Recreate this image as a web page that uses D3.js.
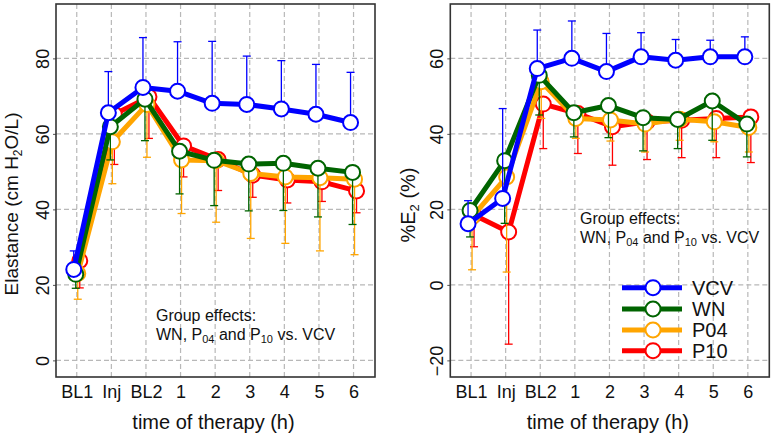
<!DOCTYPE html>
<html><head><meta charset="utf-8">
<script src="https://cdn.jsdelivr.net/npm/d3@7/dist/d3.min.js"></script>
<style>
body{margin:0;background:#fff;}
svg{display:block;font-family:"Liberation Sans",Arial,Helvetica,sans-serif;}
</style></head>
<body><svg id="c" width="773" height="438"></svg>
<script>
const categories = ["BL1","Inj","BL2","1","2","3","4","5","6"];
const seriesNames = ["VCV","WN","P04","P10"];
const seriesColors = ["#0000ff","#006400","#ffa500","#ff0000"];
// error bar direction: VCV upward (+SD), others downward (-SD)
const errDir = [1,-1,-1,-1];

// Elastance (cm H2O/L)
const elastVCV = [24.1,65.6,72.3,71.3,68.1,67.8,66.6,65.2,63.0];
const elastWN  = [22.8,61.9,69.2,55.4,53.0,52.0,52.2,50.9,49.8];
const elastP04 = [23.0,57.9,67.8,53.1,52.9,49.5,48.6,48.4,48.0];
const elastP10 = [26.4,65.2,69.8,56.8,53.2,49.1,47.8,47.3,44.9];
const elastSdVCV = [4.9,10.9,13.2,13.1,16.4,12.8,12.8,13.2,13.3];
const elastSdWN  = [3.7,8.8,11.0,11.3,12.0,12.4,12.5,12.9,13.8];
const elastSdP04 = [6.8,11.1,14.0,14.2,16.3,17.2,17.6,19.4,20.0];
const elastSdP10 = [7.2,13.3,11.0,8.2,8.2,5.9,6.1,5.2,5.8];

// %E2 (%)
const e2VCV = [16.2,22.9,57.3,60.0,56.5,60.4,59.5,60.4,60.4];
const e2WN  = [19.7,32.9,55.5,45.6,47.5,44.3,43.8,48.7,42.6];
const e2P04 = [18.0,28.6,53.8,44.1,43.7,42.6,43.9,43.2,41.7];
const e2P10 = [18.5,14.0,47.9,45.4,41.9,43.2,43.6,44.1,44.5];
const e2SdVCV = [6.1,23.8,10.2,9.9,10.1,6.4,5.5,4.4,5.3];
const e2SdWN  = [7.0,16.6,10.5,6.4,8.5,8.8,7.7,10.4,8.7];
const e2SdP04 = [14.0,25.2,9.7,5.3,5.6,7.4,5.6,5.3,6.5];
const e2SdP10 = [8.4,29.7,11.8,10.6,10.2,10.0,9.9,10.4,12.1];

const elastTicks = [0,20,40,60,80];
const e2Ticks = [-20,0,20,40,60];

const svg = d3.select("#c");
const dodge = [-3,-1,1,3];

function panel(opt){
  const x = d3.scaleLinear().domain([-0.6,8.62]).range([opt.x0,opt.x1]);
  const y = d3.scaleLinear().domain(opt.yDomain).range([377,4]);
  const g = svg.append("g");
  // grid
  g.selectAll(".vg").data(d3.range(categories.length)).join("line")
    .attr("x1",d=>x(d)).attr("x2",d=>x(d)).attr("y1",y.range()[0]).attr("y2",y.range()[1])
    .attr("stroke","#b8b8b8").attr("stroke-width",1.2).attr("stroke-dasharray","5,3");
  g.selectAll(".hg").data(opt.ticks).join("line")
    .attr("x1",opt.x0).attr("x2",opt.x1).attr("y1",d=>y(d)).attr("y2",d=>y(d))
    .attr("stroke","#b8b8b8").attr("stroke-width",1.2).attr("stroke-dasharray","5,3");
  // axes
  const ya = g.append("g").attr("transform",`translate(${opt.x0},0)`)
    .call(d3.axisLeft(y).tickValues(opt.ticks).tickSize(3));
  ya.select(".domain").remove();
  ya.selectAll("line").attr("stroke","#555");
  ya.selectAll("text").attr("x",0).attr("dy",0).attr("y",-7)
    .attr("transform","rotate(-90)").attr("text-anchor","middle")
    .attr("font-size",18).attr("fill","#111").attr("font-family",null);
  const xa = g.append("g").attr("transform",`translate(0,377)`)
    .call(d3.axisBottom(x).tickValues(d3.range(categories.length)).tickFormat(i=>categories[i]).tickSize(0).tickPadding(8));
  xa.select(".domain").remove();
  xa.selectAll("text").attr("font-size",18).attr("fill","#111").attr("font-family",null);
  // series, drawn bottom to top: P10, P04, WN, VCV
  [3,2,1,0].forEach(si=>{
    const vals = opt.values[si], sds = opt.sds[si], col = seriesColors[si];
    const pts = vals.map((v,i)=>({i,v,sd:sds[i]}));
    const sg = g.append("g");
    sg.selectAll(".eb").data(pts).join("line")
      .attr("x1",d=>x(d.i)+dodge[si]).attr("x2",d=>x(d.i)+dodge[si])
      .attr("y1",d=>y(d.v)).attr("y2",d=>y(d.v+errDir[si]*d.sd))
      .attr("stroke",col).attr("stroke-width",1.3);
    sg.selectAll(".ec").data(pts).join("line")
      .attr("x1",d=>x(d.i)+dodge[si]-4).attr("x2",d=>x(d.i)+dodge[si]+4)
      .attr("y1",d=>y(d.v+errDir[si]*d.sd)).attr("y2",d=>y(d.v+errDir[si]*d.sd))
      .attr("stroke",col).attr("stroke-width",1.3);
    sg.append("path").datum(pts)
      .attr("d",d3.line().x(d=>x(d.i)+dodge[si]).y(d=>y(d.v)))
      .attr("fill","none").attr("stroke",col).attr("stroke-width",5).attr("stroke-linejoin","round");
    sg.selectAll("circle").data(pts).join("circle")
      .attr("cx",d=>x(d.i)+dodge[si]).attr("cy",d=>y(d.v)).attr("r",7.5)
      .attr("fill","#fff").attr("stroke",col).attr("stroke-width",2);
  });
  // border
  g.append("rect").attr("x",opt.x0).attr("y",4).attr("width",opt.x1-opt.x0).attr("height",373)
    .attr("fill","none").attr("stroke","#333").attr("stroke-width",1.6);
  // x title
  g.append("text").attr("x",(opt.x0+opt.x1)/2-2).attr("y",429).attr("text-anchor","middle")
    .attr("font-size",20).attr("fill","#111").text("time of therapy (h)");
  // annotation
  const a = g.append("text").attr("font-size",16).attr("fill","#111");
  a.append("tspan").attr("x",opt.annX).attr("y",opt.annY).text("Group effects:");
  const l2 = a.append("tspan").attr("x",opt.annX).attr("y",opt.annY+19);
  l2.append("tspan").text("WN, P");
  l2.append("tspan").attr("font-size",11).attr("dy",3).text("04");
  l2.append("tspan").attr("dy",-3).text(" and P");
  l2.append("tspan").attr("font-size",11).attr("dy",3).text("10");
  l2.append("tspan").attr("dy",-3).text(" vs. VCV");
  return {x,y,g};
}

const L = panel({x0:56,x1:375,yDomain:[-4.4,94.4],ticks:elastTicks,
  values:[elastVCV,elastWN,elastP04,elastP10],sds:[elastSdVCV,elastSdWN,elastSdP04,elastSdP10],
  annX:156,annY:321});
const R = panel({x0:450.3,x1:769.3,yDomain:[-24.4,74.4],ticks:e2Ticks,
  values:[e2VCV,e2WN,e2P04,e2P10],sds:[e2SdVCV,e2SdWN,e2SdP04,e2SdP10],
  annX:580,annY:224});

// y titles
const t1 = svg.append("text").attr("transform","translate(18,204) rotate(-90)")
  .attr("text-anchor","middle").attr("font-size",19).attr("fill","#111");
t1.append("tspan").text("Elastance (cm H");
t1.append("tspan").attr("font-size",12).attr("dy",4).text("2");
t1.append("tspan").attr("dy",-4).text("O/L)");
const t2 = svg.append("text").attr("transform","translate(415,205) rotate(-90)")
  .attr("text-anchor","middle").attr("font-size",20).attr("fill","#111");
t2.append("tspan").text("%E");
t2.append("tspan").attr("font-size",13).attr("dy",4).text("2");
t2.append("tspan").attr("dy",-4).text(" (%)");

// legend
const lg = svg.append("g");
const legRows = [287.7,309,330,350.7];
seriesNames.forEach((n,i)=>{
  const row = lg.append("g").attr("transform",`translate(0,${legRows[i]})`);
  row.append("line").attr("x1",622).attr("x2",682).attr("y1",0).attr("y2",0)
    .attr("stroke",seriesColors[i]).attr("stroke-width",5);
  row.append("circle").attr("cx",653).attr("cy",0).attr("r",7.5)
    .attr("fill","#fff").attr("stroke",seriesColors[i]).attr("stroke-width",2);
  row.append("text").attr("x",692).attr("y",7).attr("font-size",20).attr("fill","#111").text(n);
});
</script></body></html>
